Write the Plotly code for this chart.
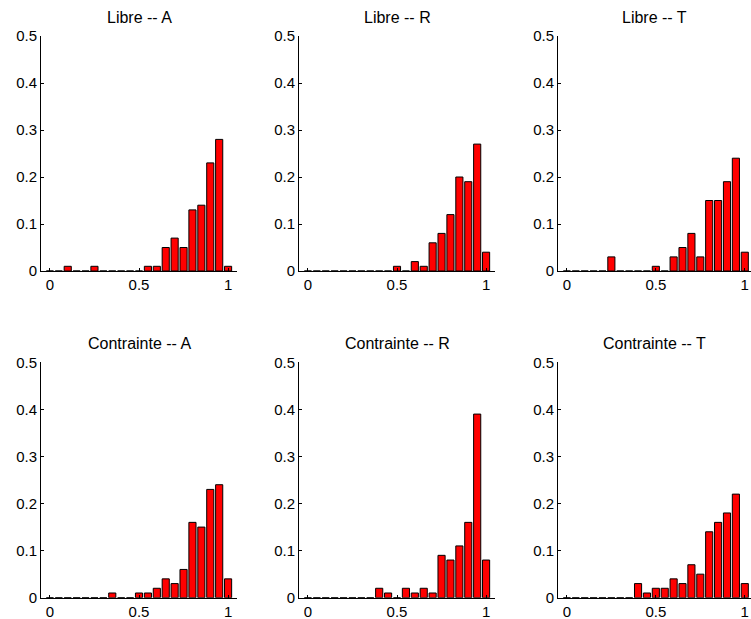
import plotly.graph_objects as go

# Bin centres shared by all histograms (step 0.05 from 0 to 1)
bins = [round(i * 0.05, 2) for i in range(21)]

# Relative frequencies per bin
libre_A = [0, 0, 0.01, 0, 0, 0.01, 0, 0, 0, 0, 0, 0.01, 0.01, 0.05, 0.07, 0.05, 0.13, 0.14, 0.23, 0.28, 0.01]
libre_R = [0, 0, 0, 0, 0, 0, 0, 0, 0, 0, 0.01, 0, 0.02, 0.01, 0.06, 0.08, 0.12, 0.20, 0.19, 0.27, 0.04]
libre_T = [0, 0, 0, 0, 0, 0.03, 0, 0, 0, 0, 0.01, 0, 0.03, 0.05, 0.08, 0.03, 0.15, 0.15, 0.19, 0.24, 0.04]
contrainte_A = [0, 0, 0, 0, 0, 0, 0, 0.01, 0, 0, 0.01, 0.01, 0.02, 0.04, 0.03, 0.06, 0.16, 0.15, 0.23, 0.24, 0.04]
contrainte_R = [0, 0, 0, 0, 0, 0, 0, 0, 0.02, 0.01, 0, 0.02, 0.01, 0.02, 0.01, 0.09, 0.08, 0.11, 0.16, 0.39, 0.08]
contrainte_T = [0, 0, 0, 0, 0, 0, 0, 0, 0.03, 0.01, 0.02, 0.02, 0.04, 0.03, 0.07, 0.05, 0.14, 0.16, 0.18, 0.22, 0.03]

titles = ["Libre -- A", "Libre -- R", "Libre -- T",
          "Contrainte -- A", "Contrainte -- R", "Contrainte -- T"]
series = [libre_A, libre_R, libre_T, contrainte_A, contrainte_R, contrainte_T]

x_ticks = [0, 0.5, 1]
x_tick_text = ["0", "0.5", "1"]
y_ticks = [0, 0.1, 0.2, 0.3, 0.4, 0.5]
y_tick_text = ["0", "0.1", "0.2", "0.3", "0.4", "0.5"]

W, H = 751, 619
FONT = "Liberation Sans"

# Panel geometry (pixels): left/right edges of each column, bottom/top of each row
col_px = [(41, 237), (299, 495), (558, 751)]
col_ranges = [[-0.05, 1.05], [-0.05, 1.05], [-0.05, 1.035]]
row_px = [(271, 36), (597.7, 362.3)]

fig = go.Figure()
layout = {}
annotations = []

for k, (title, vals) in enumerate(zip(titles, series)):
    r, c = divmod(k, 3)
    idx = "" if k == 0 else str(k + 1)
    xa, ya = "x" + idx, "y" + idx
    fig.add_trace(go.Bar(
        x=bins, y=vals, width=0.04,
        marker=dict(color="#ff0000", line=dict(color="black", width=1)),
        xaxis=xa, yaxis=ya, showlegend=False, hoverinfo="x+y",
    ))
    x0, x1 = col_px[c]
    yb, yt = row_px[r]
    common = dict(
        showline=True, linecolor="black", linewidth=1, mirror=False,
        ticks="inside", ticklen=3, tickcolor="black", tickwidth=1,
        showgrid=False, zeroline=False, automargin=False,
        tickfont=dict(family=FONT, size=15, color="#000"),
    )
    layout["xaxis" + idx] = dict(
        common, domain=[x0 / W, x1 / W], range=col_ranges[c],
        tickvals=x_ticks, ticktext=x_tick_text, anchor=ya,
    )
    layout["yaxis" + idx] = dict(
        common, domain=[1 - yb / H, 1 - yt / H], range=[0, 0.5],
        tickvals=y_ticks, ticktext=y_tick_text, anchor=xa,
    )
    annotations.append(dict(
        text=title, xref="paper", yref="paper",
        x=(x0 + x1) / 2 / W, y=1 - (yt - 18.5) / H,
        xanchor="center", yanchor="middle", showarrow=False,
        font=dict(family=FONT, size=16, color="#000"),
    ))

fig.update_layout(
    **layout,
    annotations=annotations,
    template="none",
    width=W, height=H,
    margin=dict(l=0, r=0, t=0, b=0, autoexpand=False),
    paper_bgcolor="white", plot_bgcolor="white",
    bargap=0.2,
)

fig.write_html("out.html")
